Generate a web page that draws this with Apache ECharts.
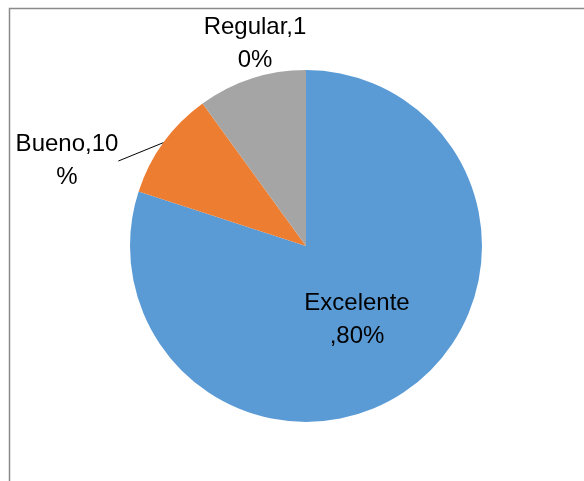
<!DOCTYPE html>
<html>
<head>
<meta charset="utf-8">
<script src="https://cdn.jsdelivr.net/npm/echarts@6/dist/echarts.min.js"></script>
<style>
  html, body { margin: 0; padding: 0; background: #fff; }
  #chart { width: 584px; height: 481px; }
</style>
</head>
<body>
<div id="chart"></div>
<script>
// datos
var categories = ['Excelente', 'Bueno', 'Regular'];
var values = [80, 10, 10];
var colors = ['#5B9BD5', '#ED7D31', '#A5A5A5'];
// donde Excel corta la etiqueta en dos lineas
var breakAt = [9, 8, 9];
// centro de cada etiqueta (como Excel las coloca)
var labelPos = [[357, 320], [67, 161], [255, 44]];
// solo Bueno lleva linea guia
var leaderLine = [false, true, false];

var myChart = echarts.init(document.getElementById('chart'));

var seriesData = categories.map(function (name, i) {
    return {
        name: name,
        value: values[i],
        itemStyle: { color: colors[i] },
        labelLine: { show: leaderLine[i] }
    };
});

var options = {
    animation: false,
    graphic: [{
        type: 'rect',
        shape: { x: 9.5, y: 8.5, width: 620, height: 520 },
        style: { fill: 'none', stroke: '#8a8a8a', lineWidth: 1.5 },
        silent: true
    }],
    series: [{
        type: 'pie',
        center: [306, 246],
        radius: 176,
        startAngle: 90,
        clockwise: true,
        itemStyle: { borderWidth: 0 },
        emphasis: { disabled: true },
        label: {
            show: true,
            position: 'outside',
            fontFamily: 'Liberation Sans',
            fontSize: 24,
            lineHeight: 33,
            color: '#000',
            align: 'center',
            formatter: function (p) {
                var txt = p.name + ',' + p.value + '%';
                var k = breakAt[p.dataIndex];
                return txt.slice(0, k) + '\n' + txt.slice(k);
            }
        },
        labelLine: {
            show: true,
            length: 10,
            length2: 0,
            lineStyle: { color: '#000', width: 1 }
        },
        labelLayout: function (params) {
            var pos = labelPos[params.dataIndex];
            return {
                x: pos[0],
                y: pos[1],
                align: 'center',
                verticalAlign: 'middle'
            };
        },
        data: seriesData
    }]
};

myChart.setOption(options);
</script>
</body>
</html>
